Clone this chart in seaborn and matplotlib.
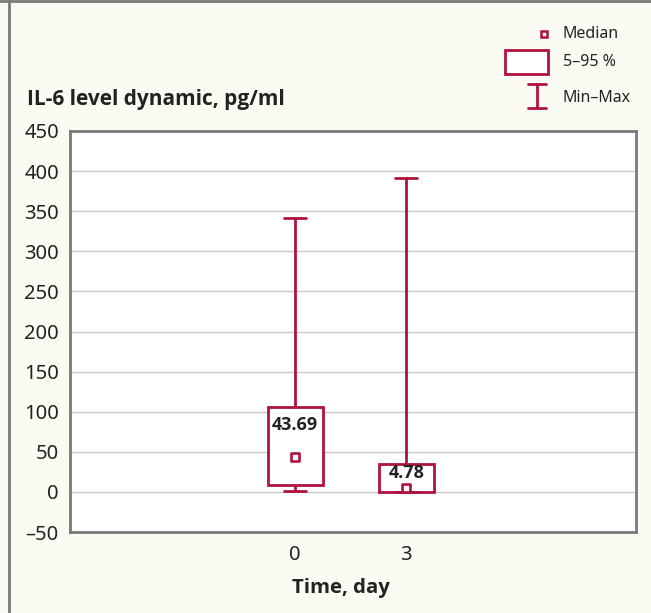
import numpy as np
import pandas as pd
import matplotlib
matplotlib.use('Agg')
import matplotlib.pyplot as plt
import seaborn as sns
from matplotlib.patches import Rectangle
from matplotlib.lines import Line2D

# --- Datos: dinámica de IL-6 (pg/ml) ---
days = ['0', '3']
val_min = [1, 0]
p5 = [8, 0]
medians = [43.69, 4.78]
p95 = [106, 35]
val_max = [341, 392]
median_labels = ['43.69', '4.78']
y_ticks = list(range(-50, 451, 50))

crimson = '#b01240'
cream = '#fbfaf3'
grey = '#7a7a7a'
bold_font = ['Open Sans', 'DejaVu Sans']

sns.set_style('white')
plt.rcParams['font.family'] = ['Noto Sans', 'DejaVu Sans']

fig = plt.figure(figsize=(6.51, 6.13), dpi=100, facecolor=cream)
ax = fig.add_axes([70 / 651, 1 - 532 / 613, 566 / 651, 401 / 613])
ax.set_facecolor('white')
ax.set_axisbelow(True)

positions = np.arange(len(days))
stats = [dict(med=m, q1=lo, q3=hi, whislo=mn, whishi=mx, fliers=[], label=d)
         for d, mn, lo, m, hi, mx in zip(days, val_min, p5, medians, p95, val_max)]
line_kw = dict(color=crimson, linewidth=2)
ax.bxp(stats, positions=positions, widths=0.5, capwidths=0.2, showfliers=False,
       patch_artist=True,
       boxprops=dict(facecolor='white', edgecolor=crimson, linewidth=2),
       whiskerprops=line_kw, capprops=line_kw, medianprops=dict(visible=False))

# Medianas como cuadrados huecos
df = pd.DataFrame({'pos': positions, 'median': medians})
sns.scatterplot(data=df, x='pos', y='median', marker='s', s=30, color='white',
                edgecolor=crimson, linewidth=1.9, zorder=5, ax=ax)

offsets = [23, 11]
for p, m, lab, off in zip(positions, medians, median_labels, offsets):
    ax.annotate(lab, (p, m), xytext=(0, off), textcoords='offset points',
                ha='center', va='center', fontsize=13, fontweight='bold',
                family=bold_font, color='#222222')

ax.set_xlim(-2.03, 3.07)
ax.set_ylim(-50, 450)
ax.set_xticks(positions)
ax.set_xticklabels(days)
ax.set_yticks(y_ticks)
ax.set_yticklabels([str(t).replace('-', '\u2013') for t in y_ticks])
ax.yaxis.grid(True, color='#c8c8c8', linewidth=1)
ax.tick_params(axis='both', direction='in', length=6, width=1, color=grey,
               labelsize=14.5, labelcolor='#222222')
ax.tick_params(axis='y', pad=8)
ax.tick_params(axis='x', pad=9)
ax.set_xlabel('')
ax.set_ylabel('')
for s in ax.spines.values():
    s.set_color(grey)
    s.set_linewidth(2)

fig.text(27 / 651, 1 - 100 / 613, 'IL-6 level dynamic, pg/ml', fontsize=15,
         fontweight='bold', family=bold_font, va='center', color='#222222')
fig.text(341 / 651, 1 - 588 / 613, 'Time, day', fontsize=14.7, fontweight='bold',
         family=bold_font, ha='center', va='center', color='#222222')

# Leyenda dibujada a mano
lax = fig.add_axes([490 / 651, 1 - 115 / 613, 161 / 651, 100 / 613])
lax.set_xlim(490, 651)
lax.set_ylim(115, 15)
lax.axis('off')
lax.plot(544, 34, 's', ms=5, mfc='white', mec=crimson, mew=1.8)
lax.add_patch(Rectangle((505, 50), 43, 24, facecolor='white', edgecolor=crimson, linewidth=2))
lax.plot([537, 537], [84, 108], **line_kw)
lax.plot([528, 546], [84, 84], **line_kw)
lax.plot([528, 546], [108, 108], **line_kw)
for yy, lab in zip([34, 62, 98], ['Median', '5\u201395 %', 'Min\u2013Max']):
    lax.text(563, yy, lab, fontsize=11.5, va='center', color='#222222')

# Marco de la figura
fig.add_artist(Line2D([9 / 651, 9 / 651], [0, 1], color=grey, linewidth=2))
fig.add_artist(Line2D([0, 1], [1 - 1 / 613, 1 - 1 / 613], color=grey, linewidth=2))

fig.savefig('out.png', dpi=100, facecolor=cream)
